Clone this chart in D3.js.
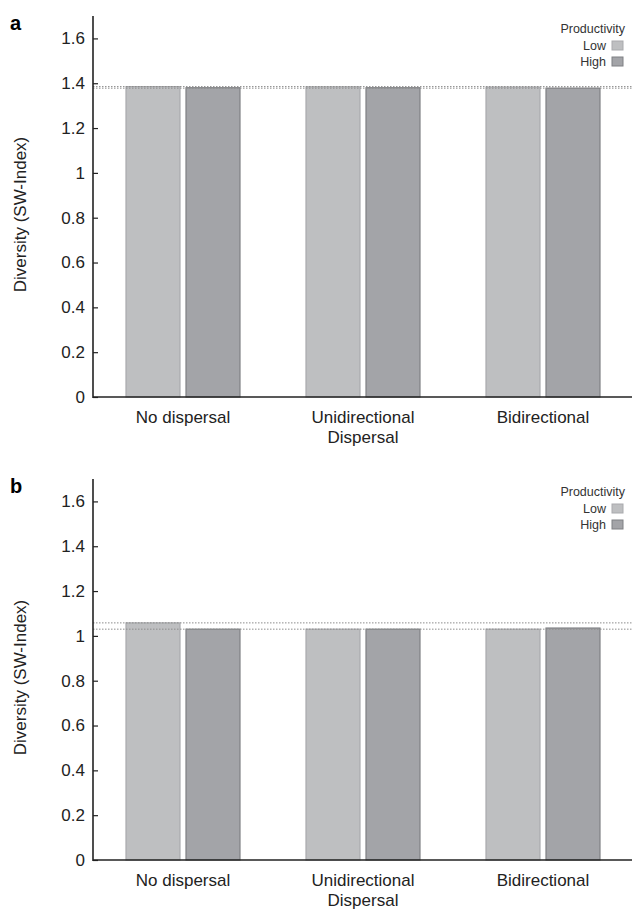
<!DOCTYPE html>
<html>
<head>
<meta charset="utf-8">
<script src="https://cdn.jsdelivr.net/npm/d3@7"></script>
<style>
  body { margin: 0; background: #fff; }
  svg { font-family: "Liberation Sans", Arial, sans-serif; }
</style>
</head>
<body>
<div id="chart"></div>
<script>
// Data
const categories = ["No dispersal", "Unidirectional\nDispersal", "Bidirectional"];
const seriesNames = ["Low", "High"];
const panelLabels = ["a", "b"];
const valuesA = [[1.385, 1.380], [1.384, 1.380], [1.383, 1.378]];
const valuesB = [[1.058, 1.030], [1.030, 1.030], [1.030, 1.035]];
const refLinesA = [1.385, 1.378];
const refLinesB = [1.058, 1.030];
const yTicks = [0, 0.2, 0.4, 0.6, 0.8, 1, 1.2, 1.4, 1.6];

const fills = { Low: "#bebfc1", High: "#a3a4a8" };
const strokes = { Low: "#a9aaad", High: "#7f8084" };

const W = 632, H = 912;
const svg = d3.select("#chart").append("svg").attr("width", W).attr("height", H);

function drawPanel(top, label, values, refLines) {
  const margin = { left: 93, right: 0 };
  const y0 = top + 381; // zero line
  const y = d3.scaleLinear().domain([0, 1.7]).range([y0, top]);
  const x = d3.scaleBand().domain(categories).range([margin.left, W + 1]);
  const xs = d3.scaleBand().domain(seriesNames).range([0, 114]).paddingInner(0.1);
  const g = svg.append("g");

  // panel letter
  g.append("text").attr("x", 10).attr("y", top + 14)
    .attr("font-size", 20).attr("font-weight", "bold").text(label);

  // bars
  categories.forEach((c, i) => {
    const gx = x(c) + (x.bandwidth() - 114) / 2;
    seriesNames.forEach((s, j) => {
      g.append("rect")
        .attr("x", gx + xs(s))
        .attr("y", y(values[i][j]))
        .attr("width", xs.bandwidth())
        .attr("height", y0 - y(values[i][j]))
        .attr("fill", fills[s])
        .attr("stroke", strokes[s])
        .attr("stroke-width", 1.2);
    });
  });

  // dotted reference lines
  refLines.forEach((v) => {
    g.append("line")
      .attr("x1", margin.left).attr("x2", W)
      .attr("y1", y(v)).attr("y2", y(v))
      .attr("stroke", "#8c8c8c").attr("stroke-width", 1)
      .attr("stroke-dasharray", "1.5,1.5");
  });

  // y axis, ticks inside
  const yAxis = g.append("g").attr("transform", `translate(${margin.left},0)`)
    .call(d3.axisRight(y).tickValues(yTicks).tickSize(5).tickFormat(d3.format("~g")));
  yAxis.select(".domain").remove();
  yAxis.selectAll(".tick line").attr("stroke", "#222").attr("stroke-width", 1.2);
  yAxis.selectAll(".tick text").attr("x", -8).attr("text-anchor", "end")
    .attr("font-size", 17).attr("fill", "#222");
  g.append("line").attr("x1", margin.left).attr("x2", margin.left)
    .attr("y1", top).attr("y2", y0 + 1)
    .attr("stroke", "#222").attr("stroke-width", 1.6);
  g.append("line").attr("x1", margin.left).attr("x2", W)
    .attr("y1", y0).attr("y2", y0)
    .attr("stroke", "#222").attr("stroke-width", 1.6);

  // category labels
  categories.forEach((c) => {
    const t = g.append("text").attr("x", x(c) + x.bandwidth() / 2).attr("y", y0 + 26)
      .attr("text-anchor", "middle").attr("font-size", 17).attr("fill", "#222");
    c.split("\n").forEach((line, k) => {
      t.append("tspan").attr("x", x(c) + x.bandwidth() / 2).attr("dy", k ? 20 : 0).text(line);
    });
  });

  // y axis title
  g.append("text")
    .attr("transform", `translate(26,${(top + y0) / 2 + 8}) rotate(-90)`)
    .attr("text-anchor", "middle").attr("font-size", 17).attr("fill", "#222")
    .text("Diversity (SW-Index)");

  // legend
  const lg = g.append("g");
  lg.append("text").attr("x", 625).attr("y", top + 17).attr("text-anchor", "end")
    .attr("font-size", 12.5).attr("fill", "#333").text("Productivity");
  seriesNames.forEach((s, j) => {
    const ly = top + 34 + j * 16;
    lg.append("text").attr("x", 606).attr("y", ly).attr("text-anchor", "end")
      .attr("font-size", 12.5).attr("fill", "#333").text(s);
    lg.append("rect").attr("x", 612).attr("y", ly - 9).attr("width", 11).attr("height", 9)
      .attr("fill", fills[s]).attr("stroke", strokes[s]);
  });
}

drawPanel(16, panelLabels[0], valuesA, refLinesA);
drawPanel(479, panelLabels[1], valuesB, refLinesB);
</script>
</body>
</html>
